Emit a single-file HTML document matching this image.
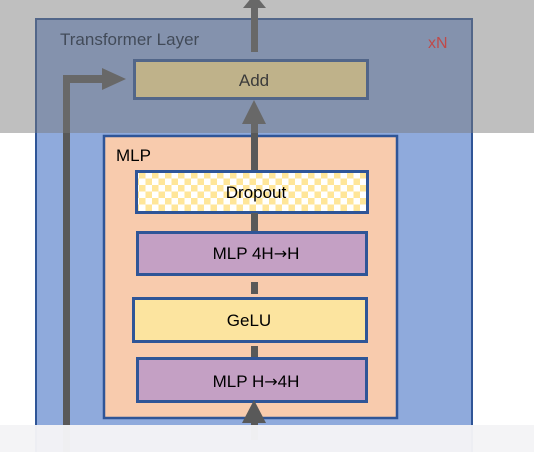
<!DOCTYPE html>
<html><head><meta charset="utf-8"><style>
html,body{margin:0;padding:0;background:#fff;width:534px;height:452px;overflow:hidden}
svg{display:block}
text{font-family:"Liberation Sans",sans-serif}
.ar{font-family:"DejaVu Sans",sans-serif}
</style></head><body>
<svg width="534" height="452" viewBox="0 0 534 452" xmlns="http://www.w3.org/2000/svg">
<defs>
<pattern id="chk" x="139" y="172" width="13" height="13" patternUnits="userSpaceOnUse">
<rect width="13" height="13" fill="#fff"/>
<rect width="6.5" height="6.5" fill="#ffe699"/>
<rect x="6.5" y="6.5" width="6.5" height="6.5" fill="#ffe699"/>
</pattern>
</defs>
<rect width="534" height="452" fill="#fff"/>
<rect x="36" y="19" width="436" height="440" fill="#8faadc" stroke="#2f5597" stroke-width="2"/>
<text x="60" y="45" font-size="17" fill="#0f1f3a">Transformer Layer</text>
<text x="428" y="48" font-size="16" fill="#ff2020">xN</text>
<rect x="251" y="6" width="7" height="46" fill="#595959"/>
<polygon points="243,8 266,8 254.5,-6" fill="#595959"/>
<rect x="134.5" y="60.5" width="233" height="38" fill="#ffe699" stroke="#2f5597" stroke-width="3"/>
<text x="254" y="86" font-size="17" text-anchor="middle" fill="#000">Add</text>
<rect x="63" y="75" width="7" height="380" fill="#595959"/>
<rect x="63" y="75" width="42" height="8" fill="#595959"/>
<polygon points="102,68 126,79 102,90" fill="#595959"/>
<rect x="104" y="136" width="293" height="282" fill="#f8cbad" stroke="#2f5597" stroke-width="2.5"/>
<text x="116" y="161" font-size="17" fill="#000">MLP</text>
<rect x="251" y="118" width="7" height="52" fill="#595959"/>
<polygon points="242,124 266,124 254,100" fill="#595959"/>
<rect x="136.5" y="171.5" width="231" height="41" fill="url(#chk)" stroke="#2f5597" stroke-width="3"/>
<text x="256" y="198" font-size="17" text-anchor="middle" fill="#000">Dropout</text>
<rect x="251" y="213" width="7" height="18" fill="#595959"/>
<rect x="137.5" y="232.5" width="229" height="42" fill="#c4a0c4" stroke="#2f5597" stroke-width="3"/>
<text x="256" y="259" font-size="17" text-anchor="middle" fill="#000">MLP 4H<tspan class="ar" font-size="16">→</tspan>H</text>
<rect x="251" y="282" width="7" height="12" fill="#595959"/>
<rect x="133.5" y="298.5" width="233" height="43" fill="#fce49f" stroke="#2f5597" stroke-width="3"/>
<text x="249" y="326" font-size="17" text-anchor="middle" fill="#000">GeLU</text>
<rect x="251" y="346" width="7" height="12" fill="#595959"/>
<rect x="137.5" y="358.5" width="229" height="43" fill="#c4a0c4" stroke="#2f5597" stroke-width="3"/>
<text x="256" y="387" font-size="17" text-anchor="middle" fill="#000">MLP H<tspan class="ar" font-size="16">→</tspan>4H</text>
<polygon points="242,423 266,423 254,400" fill="#595959"/>
<rect x="251" y="420" width="7" height="20" fill="#595959"/>
<rect x="0" y="0" width="534" height="133" fill="rgb(122,122,122)" fill-opacity="0.48"/>
<rect x="0" y="425" width="534" height="27" fill="#f4f4f6" fill-opacity="0.97"/>
</svg>
</body></html>
